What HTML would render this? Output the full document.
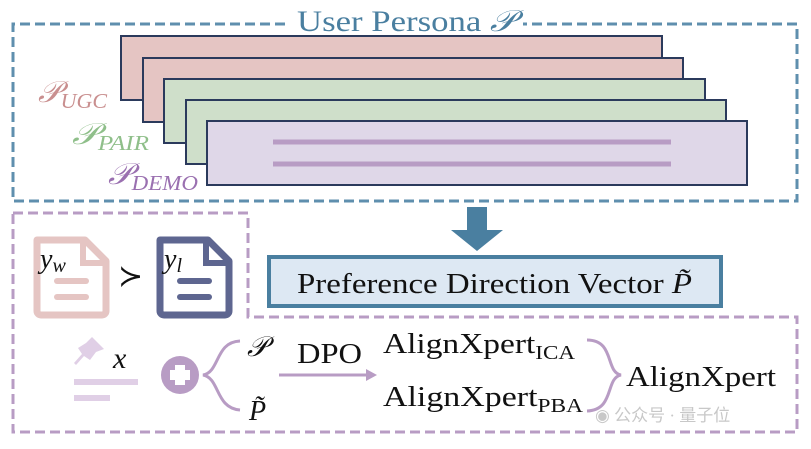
<!DOCTYPE html>
<html><head><meta charset="utf-8"><style>
body{margin:0;background:#fff;width:811px;height:444px;overflow:hidden}
svg text{font-family:"Liberation Serif","DejaVu Serif",serif}
</style></head><body>
<svg width="811" height="444" viewBox="0 0 811 444" xmlns="http://www.w3.org/2000/svg">
<path d="M285 24 H13 V201 H797 V24 H523" fill="none" stroke="#5f8fae" stroke-width="3" stroke-dasharray="10 5"/>
<text x="297" y="31" font-size="30" fill="#4a7fa0" textLength="218" lengthAdjust="spacingAndGlyphs">User Persona <tspan font-style="italic">𝒫</tspan></text>
<g stroke="#2b3a5c" stroke-width="2">
<rect x="121" y="36" width="541" height="64" fill="#e5c5c3"/>
<rect x="143" y="58" width="540" height="64" fill="#e5c5c3"/>
<rect x="164" y="79" width="541" height="64" fill="#cfdfca"/>
<rect x="186" y="100" width="540" height="64" fill="#cfdfca"/>
<rect x="207" y="121" width="540" height="64" fill="#dfd7e8"/>
</g>
<line x1="273" y1="142" x2="671" y2="142" stroke="#b89cc4" stroke-width="5"/>
<line x1="273" y1="164" x2="671" y2="164" stroke="#b89cc4" stroke-width="5"/>
<g font-style="italic">
<text x="38" y="102" font-size="30" fill="#c98f8f" textLength="69" lengthAdjust="spacingAndGlyphs">𝒫<tspan font-size="21" dy="6">UGC</tspan></text>
<text x="72" y="144" font-size="30" fill="#8fbf8a" textLength="77" lengthAdjust="spacingAndGlyphs">𝒫<tspan font-size="21" dy="6">PAIR</tspan></text>
<text x="108" y="184" font-size="30" fill="#9a70b0" textLength="90" lengthAdjust="spacingAndGlyphs">𝒫<tspan font-size="21" dy="6">DEMO</tspan></text>
</g>
<path d="M13 213 H248 V317 H797 V432 H13 Z" fill="none" stroke="#b89cc4" stroke-width="3" stroke-dasharray="10 5"/>
<path d="M467 207 H487 V230 H503 L477 251 L451 230 H467 Z" fill="#4a7fa0"/>
<rect x="269" y="257" width="452" height="49" fill="#dde8f3" stroke="#4a7fa0" stroke-width="4"/>
<text x="297" y="293" font-size="29" fill="#111" textLength="395" lengthAdjust="spacingAndGlyphs">Preference Direction Vector <tspan font-style="italic">P̃</tspan></text>
<path d="M37 240 H85 L106 261 V311 A4 4 0 0 1 102 315 H41 A4 4 0 0 1 37 311 Z" fill="#fff" stroke="#e5c5c3" stroke-width="7" stroke-linejoin="round"/>
<path d="M83 240 V263 H106" fill="none" stroke="#e5c5c3" stroke-width="6"/>
<line x1="57" y1="281" x2="86" y2="281" stroke="#e5c5c3" stroke-width="6" stroke-linecap="round"/>
<line x1="57" y1="297" x2="86" y2="297" stroke="#e5c5c3" stroke-width="6" stroke-linecap="round"/>
<text x="40" y="268" font-size="28" font-style="italic" fill="#111">y<tspan font-size="20" dy="4">w</tspan></text>
<text x="118" y="286" font-size="30" fill="#111">≻</text>
<path d="M160 240 H208 L229 261 V311 A4 4 0 0 1 225 315 H164 A4 4 0 0 1 160 311 Z" fill="#fff" stroke="#5e6690" stroke-width="7" stroke-linejoin="round"/>
<path d="M206 240 V263 H229" fill="none" stroke="#5e6690" stroke-width="6"/>
<line x1="180" y1="281" x2="209" y2="281" stroke="#5e6690" stroke-width="6" stroke-linecap="round"/>
<line x1="180" y1="297" x2="209" y2="297" stroke="#5e6690" stroke-width="6" stroke-linecap="round"/>
<text x="164" y="268" font-size="28" font-style="italic" fill="#111">y<tspan font-size="20" dy="4">l</tspan></text>
<path d="M92 337 L104 349 L96 352 L90 360 L84 356 L76 365 L74 363 L82 354 L78 348 L86 343 Z" fill="#e0cfe6"/>
<line x1="74" y1="382" x2="138" y2="382" stroke="#e0cfe6" stroke-width="6"/>
<line x1="74" y1="398" x2="110" y2="398" stroke="#e0cfe6" stroke-width="6"/>
<text x="113" y="368" font-size="30" font-style="italic" fill="#111">x</text>
<circle cx="180" cy="375" r="19" fill="#b89cc4"/>
<rect x="175" y="365" width="10" height="20" fill="#fff"/><rect x="170" y="370" width="20" height="10" fill="#fff"/>
<path d="M240 341 C215 342 220 372 203 375 C220 378 215 408 240 410" fill="none" stroke="#b89cc4" stroke-width="3"/>
<text x="247" y="356" font-size="28" font-style="italic" fill="#111">𝒫</text>
<text x="249" y="420" font-size="28" font-style="italic" fill="#111">P̃</text>
<text x="297" y="363" font-size="29" fill="#111" textLength="65" lengthAdjust="spacingAndGlyphs">DPO</text>
<line x1="279" y1="375" x2="368" y2="375" stroke="#b89cc4" stroke-width="3"/>
<path d="M377 375 L366 369 L366 381 Z" fill="#b89cc4"/>
<text x="383" y="353" font-size="29" fill="#111" textLength="192" lengthAdjust="spacingAndGlyphs">AlignXpert<tspan font-size="20" dy="6">ICA</tspan></text>
<text x="383" y="406" font-size="29" fill="#111" textLength="200" lengthAdjust="spacingAndGlyphs">AlignXpert<tspan font-size="20" dy="6">PBA</tspan></text>
<path d="M587 340 C615 340 605 372 621 375 C605 378 615 410 587 411" fill="none" stroke="#b89cc4" stroke-width="3"/>
<text x="626" y="386" font-size="29" fill="#111" textLength="150" lengthAdjust="spacingAndGlyphs">AlignXpert</text>
<text x="595" y="421" font-size="17" fill="#c8c8c8" font-family="Noto Sans CJK SC, sans-serif">◉ 公众号 · 量子位</text>
</svg>
</body></html>
